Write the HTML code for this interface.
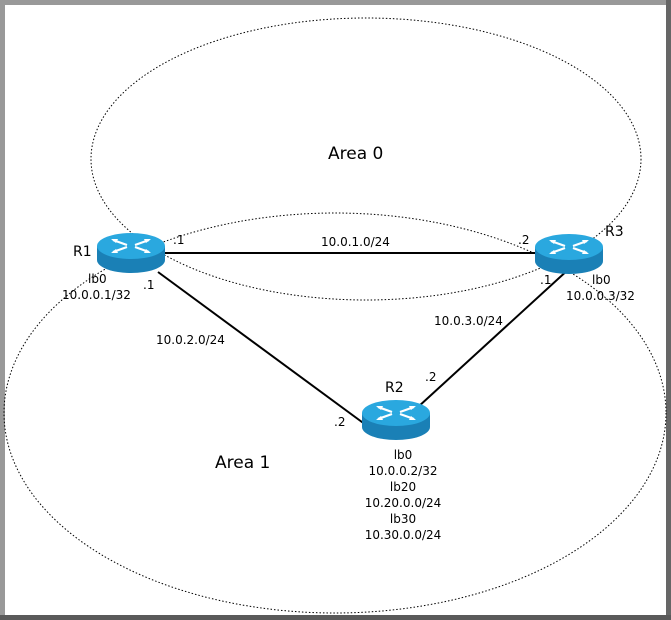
<!DOCTYPE html>
<html><head><style>
html,body{margin:0;padding:0;background:#fff;}
svg{display:block;}
text{font-family:"DejaVu Sans","Liberation Sans",sans-serif;fill:#000;}
</style></head><body>
<svg width="671" height="620" viewBox="0 0 671 620" xmlns="http://www.w3.org/2000/svg">
<defs>
<g id="rt">
<path d="M-34,0 L-34,14 A34,13 0 0 0 34,14 L34,0 Z" fill="#1a80b6"/>
<ellipse cx="0" cy="0" rx="34" ry="13" fill="#2aa8df"/>
<g stroke="#fff" stroke-width="2.2" fill="none">
<path d="M-18,-6 L-4,-1 M4,1 L18,6 M-18,6 L-4,1 M4,-1 L18,-6"/>
</g>
<g fill="#fff">
<polygon points="-20,-7 -13,-7 -15,-3"/>
<polygon points="20,7 13,7 15,3"/>
<polygon points="-20,7 -13,7 -15,3"/>
<polygon points="20,-7 13,-7 15,-3"/>
</g>
</g>
</defs>
<rect x="0" y="0" width="671" height="620" fill="#fff"/>
<rect x="0" y="0" width="671" height="5" fill="#999"/>
<rect x="0" y="0" width="5" height="620" fill="#999"/>
<rect x="666" y="0" width="5" height="620" fill="#666"/>
<rect x="0" y="615" width="671" height="5" fill="#5a5a5a"/>
<ellipse cx="366" cy="159" rx="275" ry="141" fill="none" stroke="#000" stroke-width="1" stroke-dasharray="1.5,2"/>
<ellipse cx="335" cy="413" rx="331" ry="200" fill="none" stroke="#000" stroke-width="1" stroke-dasharray="1.5,2"/>
<g stroke="#000" stroke-width="2">
<line x1="164" y1="253" x2="537" y2="253"/>
<line x1="158" y1="272" x2="366" y2="425"/>
<line x1="570" y1="268" x2="418" y2="407"/>
</g>
<use href="#rt" x="131" y="246"/>
<use href="#rt" x="569" y="247"/>
<use href="#rt" x="396" y="413"/>
<text x="328" y="159" font-size="17">Area 0</text>
<text x="215" y="468" font-size="17">Area 1</text>
<g font-size="12">
<text x="73" y="256" font-size="14">R1</text>
<text x="605" y="236" font-size="14">R3</text>
<text x="385" y="392" font-size="14">R2</text>
<text x="173" y="244">.1</text>
<text x="143" y="289">.1</text>
<text x="518" y="244">.2</text>
<text x="540" y="284">.1</text>
<text x="425" y="381">.2</text>
<text x="334" y="426">.2</text>
<text x="321" y="246">10.0.1.0/24</text>
<text x="156" y="344">10.0.2.0/24</text>
<text x="434" y="325">10.0.3.0/24</text>
<text x="88" y="283">lb0</text>
<text x="62" y="299">10.0.0.1/32</text>
<text x="592" y="284">lb0</text>
<text x="566" y="300">10.0.0.3/32</text>
<g text-anchor="middle">
<text x="403" y="459">lb0</text>
<text x="403" y="475">10.0.0.2/32</text>
<text x="403" y="491">lb20</text>
<text x="403" y="507">10.20.0.0/24</text>
<text x="403" y="523">lb30</text>
<text x="403" y="539">10.30.0.0/24</text>
</g>
</g>
</svg>
</body></html>
